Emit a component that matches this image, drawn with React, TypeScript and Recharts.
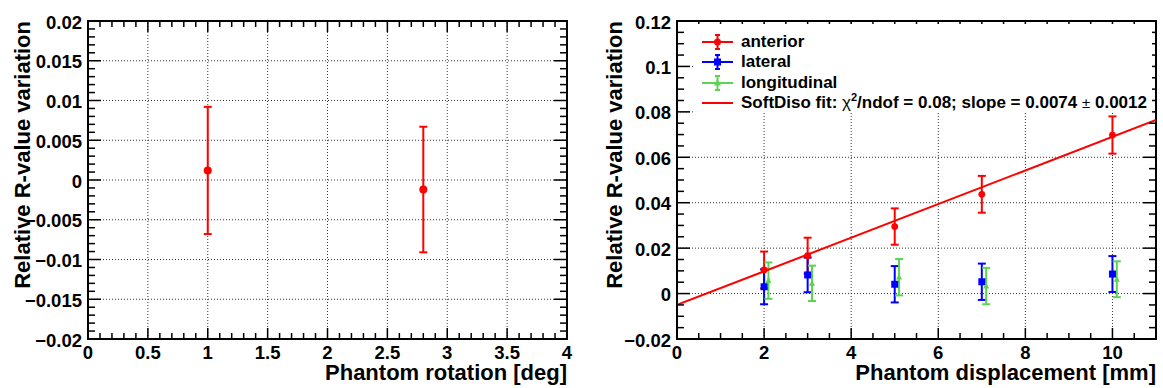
import React from "react";
import {
  ComposedChart,
  Scatter,
  Line,
  XAxis,
  YAxis,
  ErrorBar,
  ReferenceLine,
  ReferenceArea,
  Legend,
} from "recharts";

const FONT = '"Liberation Sans", Arial, Helvetica, sans-serif';
const RED = "#ff0000";
const BLUE = "#0000ff";
const GREEN = "#59d454";

// left panel: phantom rotation
const rotationX = [1, 2.8];
const rotationY = [0.0012, -0.0012];
const rotationErr = [0.008, 0.0079];
const rotationXTicks = [0, 0.5, 1, 1.5, 2, 2.5, 3, 3.5, 4];
const rotationYTicks = [-0.02, -0.015, -0.01, -0.005, 0, 0.005, 0.01, 0.015, 0.02];

// right panel: phantom displacement
const dispX = [2, 3, 5, 7, 10];
const longitudinalX = [2.1, 3.1, 5.1, 7.1, 10.1];
const anteriorY = [0.0104, 0.0167, 0.0295, 0.0437, 0.0698];
const anteriorErr = [0.0081, 0.0079, 0.008, 0.0081, 0.0082];
const lateralY = [0.003, 0.0082, 0.0041, 0.0052, 0.0086];
const lateralErr = [0.0077, 0.0076, 0.008, 0.008, 0.0079];
const longitudinalY = [0.0057, 0.0045, 0.0072, 0.0033, 0.0063];
const longitudinalErr = [0.008, 0.0078, 0.008, 0.008, 0.0079];
const fitX = [0, 11];
const fitY = [-0.005, 0.0764];
const dispXTicks = [0, 2, 4, 6, 8, 10];
const dispYTicks = [-0.02, 0, 0.02, 0.04, 0.06, 0.08, 0.1, 0.12];

// minor tick helper (axis decoration only)
const steps = (from: number, to: number, step: number) => {
  const out: number[] = [];
  const n = Math.round((to - from) / step);
  for (let i = 0; i <= n; i++) out.push(+(from + i * step).toFixed(6));
  return out;
};

const fmt = (v: number) => String(v).replace("-", "\u2212");
const isMajor = (v: number, majors: number[]) => majors.some((m) => Math.abs(m - v) < 1e-9);

const makeXTick = (majors: number[], plotH: number) => (props: any) => {
  const { x, y, payload } = props;
  const v = payload.value;
  const major = isMajor(v, majors);
  const len = major ? 11 : 6;
  return (
    <g>
      <line x1={x} x2={x} y1={y} y2={y - len} stroke="#000" strokeWidth={1.5} />
      <line x1={x} x2={x} y1={y - plotH} y2={y - plotH + len} stroke="#000" strokeWidth={1.5} />
      {major && (
        <text x={x} y={y + 19.5} textAnchor="middle" fontSize={18.5} fontWeight="bold" fontFamily={FONT} fill="#000">
          {fmt(v)}
        </text>
      )}
    </g>
  );
};

const makeYTick = (majors: number[], plotW: number) => (props: any) => {
  const { x, y, payload } = props;
  const v = payload.value;
  const major = isMajor(v, majors);
  const len = major ? 13 : 7;
  return (
    <g>
      <line x1={x} x2={x + len} y1={y} y2={y} stroke="#000" strokeWidth={1.5} />
      <line x1={x + plotW} x2={x + plotW - len} y1={y} y2={y} stroke="#000" strokeWidth={1.5} />
      {major && (
        <text x={x - 6} y={y + 7.5} textAnchor="end" fontSize={18.5} fontWeight="bold" fontFamily={FONT} fill="#000">
          {fmt(v)}
        </text>
      )}
    </g>
  );
};

const xTitle = (text: string) => (props: any) => {
  const vb = props.viewBox;
  return (
    <text x={vb.x + vb.width} y={vb.y + 41} textAnchor="end" fontSize={22} fontWeight="bold" fontFamily={FONT} fill="#000">
      {text}
    </text>
  );
};

const yTitle = (text: string, dx: number) => (props: any) => {
  const vb = props.viewBox;
  const x = vb.x + dx;
  const y = vb.y;
  return (
    <text
      x={x}
      y={y}
      transform={`rotate(-90, ${x}, ${y})`}
      textAnchor="end"
      fontSize={22}
      fontWeight="bold"
      fontFamily={FONT}
      fill="#000"
    >
      {text}
    </text>
  );
};

const circleShape = (r: number, color: string) => (p: any) => <circle cx={p.cx} cy={p.cy} r={r} fill={color} />;
const squareShape = (s: number, color: string) => (p: any) => (
  <rect x={p.cx - s / 2} y={p.cy - s / 2} width={s} height={s} fill={color} />
);
const triangleShape = (s: number, color: string) => (p: any) => (
  <polygon
    points={`${p.cx},${p.cy - s * 0.6} ${p.cx - s / 2},${p.cy + s * 0.4} ${p.cx + s / 2},${p.cy + s * 0.4}`}
    fill={color}
  />
);

const gridStyle = { stroke: "#333", strokeDasharray: "1 2", strokeWidth: 1 };

const RotationPanel: React.FC = () => {
  const data = rotationX.map((x, i) => ({ x, y: rotationY[i], err: rotationErr[i] }));
  const plotW = 479;
  const plotH = 318;
  return (
    <ComposedChart width={580} height={388} margin={{ top: 21, right: 13, bottom: 0, left: 0 }}>
      <XAxis
        type="number"
        dataKey="x"
        domain={[0, 4]}
        allowDataOverflow
        ticks={steps(0, 4, 0.1)}
        interval={0}
        height={49}
        axisLine={false}
        tickLine={false}
        tickSize={0}
        tickMargin={0}
        tick={makeXTick(rotationXTicks, plotH)}
        label={{ content: xTitle("Phantom rotation [deg]") }}
      />
      <YAxis
        type="number"
        domain={[-0.02, 0.02]}
        allowDataOverflow
        ticks={steps(-0.02, 0.02, 0.001)}
        interval={0}
        width={88}
        axisLine={false}
        tickLine={false}
        tickSize={0}
        tickMargin={0}
        tick={makeYTick(rotationYTicks, plotW)}
        label={{ content: yTitle("Relative R-value variation", 30) }}
      />
      {rotationXTicks.slice(1, -1).map((v) => (
        <ReferenceLine key={"gx" + v} x={v} {...gridStyle} />
      ))}
      {rotationYTicks.slice(1, -1).map((v) => (
        <ReferenceLine key={"gy" + v} y={v} {...gridStyle} />
      ))}
      <ReferenceArea x1={0} x2={4} y1={-0.02} y2={0.02} fill="none" stroke="#000" strokeWidth={2} />
      <Scatter data={data} dataKey="y" shape={circleShape(4, RED)} isAnimationActive={false}>
        <ErrorBar dataKey="err" direction="y" width={4} stroke={RED} strokeWidth={2} />
      </Scatter>
    </ComposedChart>
  );
};

const legendRows = [
  { name: "anterior", color: RED, marker: "circle" },
  { name: "lateral", color: BLUE, marker: "square" },
  { name: "longitudinal", color: GREEN, marker: "triangle" },
  { name: "fit", color: RED, marker: "" },
];

const LegendIcon: React.FC<{ color: string; marker: string }> = ({ color, marker }) => (
  <svg width={32} height={20} style={{ display: "block" }}>
    <line x1={0} x2={31} y1={10} y2={10} stroke={color} strokeWidth={2} />
    {marker && (
      <>
        <line x1={15.5} x2={15.5} y1={3} y2={17} stroke={color} strokeWidth={2} />
        <line x1={13} x2={18} y1={3} y2={3} stroke={color} strokeWidth={2} />
        <line x1={13} x2={18} y1={17} y2={17} stroke={color} strokeWidth={2} />
      </>
    )}
    {marker === "circle" && <circle cx={15.5} cy={10} r={3.5} fill={color} />}
    {marker === "square" && <rect x={12} y={6.5} width={7} height={7} fill={color} />}
    {marker === "triangle" && <polygon points="15.5,6 12,12.5 19,12.5" fill={color} />}
  </svg>
);

const LegendBox: React.FC = () => (
  <div
    style={{
      background: "#fff",
      width: 459,
      height: 89,
      boxSizing: "border-box",
      paddingTop: 8,
      paddingLeft: 9,
      fontFamily: FONT,
      fontWeight: "bold",
      fontSize: 17,
      color: "#000",
    }}
  >
    {legendRows.map((r) => (
      <div key={r.name} style={{ display: "flex", alignItems: "center", height: 20.3 }}>
        <LegendIcon color={r.color} marker={r.marker} />
        <span style={{ marginLeft: 7, whiteSpace: "nowrap", lineHeight: "20px" }}>
          {r.name === "fit" ? (
            <>
              SoftDiso fit: <span style={{ fontWeight: "normal" }}>χ</span>
              <sup style={{ fontSize: 11, lineHeight: 0 }}>2</sup>/ndof = 0.08; slope = 0.0074{" "}
              <span style={{ fontWeight: "normal", fontSize: 15 }}>±</span> 0.0012
            </>
          ) : (
            r.name
          )}
        </span>
      </div>
    ))}
  </div>
);

const DisplacementPanel: React.FC = () => {
  const anterior = dispX.map((x, i) => ({ x, y: anteriorY[i], err: anteriorErr[i] }));
  const lateral = dispX.map((x, i) => ({ x, y: lateralY[i], err: lateralErr[i] }));
  const longitudinal = longitudinalX.map((x, i) => ({ x, y: longitudinalY[i], err: longitudinalErr[i] }));
  const fit = fitX.map((x, i) => ({ x, y: fitY[i] }));
  const plotW = 479;
  const plotH = 318;
  return (
    <ComposedChart width={583} height={388} margin={{ top: 21, right: 7, bottom: 0, left: 0 }}>
      <XAxis
        type="number"
        dataKey="x"
        domain={[0, 11]}
        allowDataOverflow
        ticks={steps(0, 11, 0.5)}
        interval={0}
        height={49}
        axisLine={false}
        tickLine={false}
        tickSize={0}
        tickMargin={0}
        tick={makeXTick(dispXTicks, plotH)}
        label={{ content: xTitle("Phantom displacement [mm]") }}
      />
      <YAxis
        type="number"
        domain={[-0.02, 0.12]}
        allowDataOverflow
        ticks={steps(-0.02, 0.12, 0.005)}
        interval={0}
        width={97}
        axisLine={false}
        tickLine={false}
        tickSize={0}
        tickMargin={0}
        tick={makeYTick(dispYTicks, plotW)}
        label={{ content: yTitle("Relative R-value variation", 41.5) }}
      />
      {dispXTicks.slice(1).map((v) => (
        <ReferenceLine key={"gx" + v} x={v} {...gridStyle} />
      ))}
      {dispYTicks.slice(1, -1).map((v) => (
        <ReferenceLine key={"gy" + v} y={v} {...gridStyle} />
      ))}
      <ReferenceArea x1={0} x2={11} y1={-0.02} y2={0.12} fill="none" stroke="#000" strokeWidth={2} />
      <Scatter data={anterior} dataKey="y" shape={circleShape(3.4, RED)} isAnimationActive={false}>
        <ErrorBar dataKey="err" direction="y" width={4} stroke={RED} strokeWidth={2} />
      </Scatter>
      <Scatter data={lateral} dataKey="y" shape={squareShape(7, BLUE)} isAnimationActive={false}>
        <ErrorBar dataKey="err" direction="y" width={4} stroke={BLUE} strokeWidth={2} />
      </Scatter>
      <Scatter data={longitudinal} dataKey="y" shape={triangleShape(6, GREEN)} isAnimationActive={false}>
        <ErrorBar dataKey="err" direction="y" width={4} stroke={GREEN} strokeWidth={2} />
      </Scatter>
      <Line data={fit} dataKey="y" stroke={RED} strokeWidth={2} dot={false} isAnimationActive={false} />
      <Legend
        layout="vertical"
        align="center"
        verticalAlign="middle"
        content={() => <LegendBox />}
        wrapperStyle={{ position: "absolute", left: 113, top: 24, width: 459, height: 89 }}
      />
    </ComposedChart>
  );
};

const App: React.FC = () => (
  <div style={{ position: "absolute", left: 0, top: 0, width: 1163, height: 388, background: "#fff" }}>
    <div style={{ position: "absolute", left: 0, top: 0 }}>
      <RotationPanel />
    </div>
    <div style={{ position: "absolute", left: 580, top: 0 }}>
      <DisplacementPanel />
    </div>
  </div>
);

export default App;
